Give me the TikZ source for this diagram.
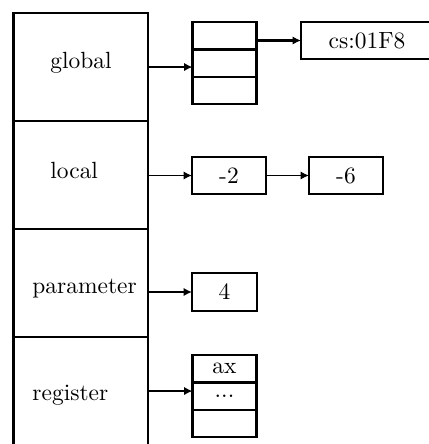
\documentclass[tikz,border=0pt]{standalone}
\usetikzlibrary{arrows.meta,positioning}
\tikzset{
  cell/.style={draw,line width=1pt,inner sep=0,outer sep=0,minimum width=2.02cm,minimum height=1.62cm},
  slot/.style={draw,line width=1pt,inner sep=0,outer sep=0,minimum width=0.96cm,minimum height=0.41cm},
  valbox/.style={draw,line width=1pt,inner sep=0,outer sep=0,minimum height=0.555cm},
  lbl/.style={anchor=west,inner sep=0},
  ptr/.style={-{Latex[length=3.6pt,width=3.6pt]},line width=0.8pt}
}
\begin{document}
\begin{tikzpicture}[x=0.015cm,y=-0.015cm]
  \path[use as bounding box,clip] (0,0) rectangle (429,444);
  % frame column
  \node[cell] (global) at (80.75,67) {};
  \node[cell,below=0pt of global] (local) {};
  \node[cell,below=0pt of local] (parameter) {};
  \node[cell,below=0pt of parameter] (register) {};
  \draw[line width=1.4pt] (global.north west) -- (register.south west);
  \node[lbl] (lglobal) at (50,62.5) {global};
  \node[lbl] (llocal) at (50,170) {local};
  \node[lbl] (lparameter) at (32,289) {parameter};
  \node[lbl] (lregister) at (32,395.5) {register};
  % global data
  \node[slot] (g1) at (224.5,35.7) {};
  \node[slot,below=0pt of g1] (g2) {};
  \node[slot,below=0pt of g2] (g3) {};
  \node[valbox,minimum width=1.98cm] (cs) at (367,40.5) {cs:01F8};
  % locals
  \node[valbox,minimum width=1.11cm] (m2) at (229,175.5) {-2};
  \node[valbox,minimum width=1.11cm,right=0.645cm of m2] (m6) {-6};
  % parameter
  \node[valbox,minimum width=0.975cm,minimum height=0.57cm] (p4) at (224.5,292) {4};
  % registers
  \node[slot] (r1) at (224.5,368.7) {ax};
  \node[slot,below=0pt of r1] (r2) {...};
  \node[slot,below=0pt of r2] (r3) {};
  % pointers
  \coordinate (gin) at ([yshift=-0.06cm]g2.west);
  \coordinate (rin) at ([yshift=0.075cm]r2.west);
  \draw[ptr,line width=1.1pt] (global.east |- gin) -- (gin);
  \draw[ptr,line width=1.2pt] (g1.east |- cs.west) -- (cs.west);
  \draw[ptr] (local.east |- m2.west) -- (m2.west);
  \draw[ptr] (m2) -- (m6);
  \draw[ptr] (parameter.east |- p4.west) -- (p4.west);
  \draw[ptr] (register.east |- rin) -- (rin);
\end{tikzpicture}
\end{document}
